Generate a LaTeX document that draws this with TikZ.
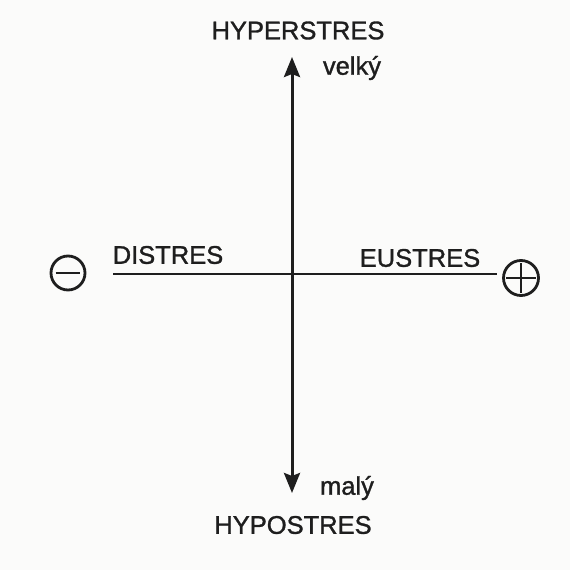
\documentclass[tikz,border=0pt]{standalone}
\usepackage{fontspec}
\setmainfont{Liberation Sans}
\newfontfamily\inkfont{Liberation Sans}[FakeBold=1.2]
\usetikzlibrary{arrows.meta}
\definecolor{ink}{HTML}{1E1E1E}
\definecolor{paper}{HTML}{FBFBFA}
\begin{document}
\begin{tikzpicture}[x=1pt,y=-1pt,
  lbl/.style={font=\inkfont\fontsize{25.5}{28}\selectfont, text=ink, inner sep=0pt},
  sgn/.style={circle, draw=ink, line width=2.8pt, inner sep=0pt},
  axis/.style={draw=ink, line width=3pt},
  bigtip/.tip={Stealth[length=20pt,width=16pt,inset=3pt]}]
\fill[paper] (0,0) rectangle (570,570);
\useasboundingbox (0,0) rectangle (570,570);
\node[lbl] (hyper) at (298,30.5) {HYPERSTRES};
\node[lbl] (hypo) at (293,525) {HYPOSTRES};
\node[lbl] (velky) at (352,68) {velký};
\node[lbl] (maly) at (347,488) {malý};
\node[lbl] (dis) at (168,255) {DISTRES};
\node[lbl] (eu) at (420,258) {EUSTRES};
\coordinate (top) at (292,57);
\coordinate (bot) at (292,493);
\coordinate (left) at (113,274);
\coordinate (right) at (497,274);
\draw[axis, bigtip-bigtip] (top) -- (bot);
\draw[axis, line width=2.6pt] (left) -- (right);
\node[sgn, minimum size=34pt] (minus) at (68,273) {};
\draw[ink, line width=2.8pt] ([xshift=6pt]minus.west) -- ([xshift=-6pt]minus.east);
\node[sgn, minimum size=35pt] (plus) at (521,278) {};
\draw[ink, line width=2.6pt] ([xshift=4pt]plus.west) -- ([xshift=-4pt]plus.east);
\draw[ink, line width=2.6pt] ([yshift=-4pt]plus.north) -- ([yshift=4pt]plus.south);
\end{tikzpicture}
\end{document}
